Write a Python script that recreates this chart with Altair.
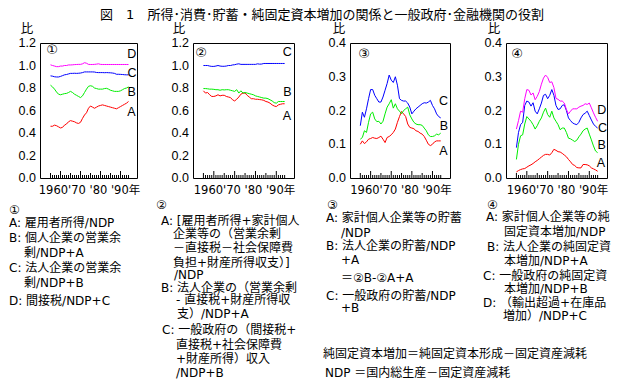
import altair as alt
import pandas as pd

years = list(range(1955, 1995))

# Panel 1
p1_A = [0.46,0.46,0.47,0.465,0.455,0.445,0.45,0.47,0.48,0.50,
        0.51,0.505,0.50,0.49,0.485,0.495,0.53,0.56,0.58,0.62,
        0.64,0.63,0.62,0.63,0.64,0.645,0.65,0.645,0.64,0.635,
        0.63,0.625,0.62,0.615,0.625,0.635,0.645,0.655,0.665,0.68]
p1_B = [0.825,0.81,0.79,0.765,0.745,0.74,0.745,0.75,0.752,0.76,
        0.77,0.76,0.745,0.735,0.725,0.715,0.73,0.76,0.79,0.815,
        0.82,0.815,0.80,0.795,0.79,0.79,0.79,0.795,0.797,0.79,
        0.78,0.775,0.77,0.77,0.77,0.775,0.785,0.795,0.80,0.81]
p1_C = [0.908,0.905,0.900,0.898,0.898,0.903,0.910,0.917,0.920,0.925,
        0.930,0.930,0.931,0.930,0.931,0.933,0.937,0.943,0.943,0.943,
        0.943,0.943,0.942,0.938,0.937,0.937,0.937,0.936,0.937,0.936,
        0.935,0.933,0.930,0.922,0.922,0.921,0.920,0.918,0.917,0.917]
p1_D = [1.006,1.0,0.995,0.99,0.99,0.995,0.995,1.0,1.0,1.005,
        1.005,1.006,1.008,1.009,1.01,1.01,1.015,1.025,1.02,1.01,
        1.009,1.009,1.01,1.012,1.015,1.01,1.009,1.009,1.009,1.009,
        1.009,1.009,1.009,1.009,1.009,1.009,1.009,1.009,1.009,1.009]

# Panel 2
p2_A = [0.775,0.755,0.76,0.74,0.725,0.725,0.73,0.74,0.73,0.735,
        0.735,0.725,0.72,0.715,0.695,0.685,0.70,0.72,0.745,0.755,
        0.755,0.735,0.72,0.705,0.705,0.70,0.70,0.697,0.695,0.69,
        0.68,0.675,0.665,0.65,0.64,0.635,0.65,0.655,0.66,0.66]
p2_B = [0.795,0.795,0.793,0.79,0.79,0.788,0.785,0.785,0.78,0.785,
        0.783,0.785,0.785,0.78,0.775,0.77,0.785,0.755,0.775,0.755,
        0.76,0.755,0.75,0.745,0.74,0.73,0.725,0.72,0.715,0.71,
        0.71,0.705,0.695,0.685,0.67,0.665,0.68,0.68,0.68,0.68]
p2_C = [1.0,1.0,1.0,0.995,0.992,0.992,0.995,1.0,0.995,0.993,
        0.993,0.995,1.0,1.0,1.005,1.007,1.012,1.015,1.01,1.01,
        1.01,1.01,1.01,1.01,1.01,1.01,1.015,1.012,1.013,1.018,
        1.018,1.018,1.018,1.018,1.018,1.018,1.018,1.018,1.018,1.018]

# Panel 3
p3_A = [0.10,0.11,0.102,0.107,0.115,0.117,0.12,0.118,0.117,0.12,
        0.124,0.115,0.105,0.12,0.123,0.128,0.135,0.145,0.165,0.182,
        0.197,0.19,0.182,0.16,0.15,0.148,0.146,0.14,0.138,0.133,
        0.13,0.123,0.112,0.10,0.096,0.10,0.107,0.11,0.11,0.11]
p3_B = [0.115,0.12,0.14,0.135,0.165,0.19,0.195,0.175,0.167,0.168,
        0.16,0.168,0.19,0.21,0.22,0.232,0.207,0.22,0.205,0.198,
        0.19,0.2,0.205,0.21,0.187,0.175,0.165,0.16,0.158,0.158,
        0.156,0.148,0.14,0.128,0.123,0.123,0.125,0.13,0.128,0.133]
p3_C = [0.155,0.195,0.18,0.205,0.235,0.262,0.262,0.245,0.235,0.225,
        0.225,0.24,0.26,0.28,0.305,0.29,0.283,0.30,0.275,0.235,
        0.23,0.228,0.228,0.222,0.21,0.19,0.198,0.205,0.21,0.215,
        0.22,0.223,0.222,0.225,0.23,0.215,0.205,0.19,0.182,0.178]

# Panel 4
p4_A = [0.018,0.022,0.025,0.027,0.028,0.032,0.036,0.039,0.043,0.048,
        0.052,0.057,0.062,0.067,0.07,0.07,0.068,0.075,0.085,0.082,
        0.078,0.077,0.073,0.068,0.063,0.055,0.048,0.04,0.037,0.031,
        0.03,0.03,0.04,0.04,0.039,0.036,0.03,0.027,0.024,0.02]
p4_B = [0.055,0.10,0.125,0.128,0.16,0.182,0.175,0.168,0.158,0.145,
        0.155,0.168,0.178,0.195,0.207,0.188,0.18,0.198,0.178,0.168,
        0.158,0.143,0.148,0.148,0.135,0.118,0.116,0.112,0.108,0.112,
        0.122,0.13,0.14,0.145,0.148,0.13,0.113,0.095,0.08,0.075]
p4_C = [0.09,0.135,0.158,0.165,0.215,0.228,0.225,0.213,0.223,0.198,
        0.19,0.205,0.222,0.245,0.248,0.235,0.245,0.262,0.245,0.215,
        0.203,0.205,0.215,0.217,0.2,0.178,0.17,0.163,0.16,0.158,
        0.165,0.178,0.188,0.192,0.198,0.185,0.172,0.16,0.153,0.148]
p4_D = [0.145,0.17,0.198,0.195,0.235,0.262,0.26,0.246,0.252,0.232,
        0.242,0.256,0.278,0.296,0.305,0.298,0.283,0.285,0.268,0.236,
        0.233,0.228,0.228,0.222,0.203,0.19,0.198,0.205,0.205,0.205,
        0.21,0.213,0.215,0.22,0.218,0.222,0.208,0.193,0.18,0.168]

# series end labels (name, year, value)
lab1 = (["A", "B", "C", "D"], [1995.5, 1995.6, 1995.8, 1995.6], [0.589, 0.767, 0.93, 1.10])
lab2 = (["A", "B", "C"], [1995.1, 1995.3, 1995.3], [0.551, 0.767, 1.12])
lab3 = (["A", "B", "C"], [1995.3, 1995.6, 1995.4], [0.08, 0.154, 0.228])
lab4 = (["A", "B", "C", "D"], [1995.6, 1996.0, 1996.3, 1996.0], [0.045, 0.098, 0.149, 0.2006])

yticks_big = [0.0, 0.2, 0.4, 0.6, 0.8, 1.0, 1.2]
yticks_small = [0.0, 0.1, 0.2, 0.3, 0.4]
x_caption = "1960'70 '80 '90年"
y_caption = "比"
circled = ["①", "②", "③", "④"]
title_text = "図　1　所得･消費･貯蓄・純固定資本増加の関係と一般政府･金融機関の役割"

notes1 = ["①", "A: 雇用者所得/NDP", "B: 個人企業の営業余", "剰/NDP+A",
          "C: 法人企業の営業余", "剰/NDP+B", "D: 間接税/NDP+C"]
notes2 = ["②", "A: [雇用者所得+家計個人", "企業等の（営業余剰", "－直接税－社会保障費",
          "負担+財産所得収支）]", "/NDP", "B: 法人企業の（営業余剰", "- 直接税+財産所得収",
          "支）/NDP+A", "C: 一般政府の（間接税+", "直接税+社会保障費", "+財産所得）収入", "/NDP+B"]
notes3 = ["③", "A: 家計個人企業等の貯蓄", "/NDP", "B: 法人企業の貯蓄/NDP", "+A",
          "＝②B-②A+A", "C: 一般政府の貯蓄/NDP", "+B",
          "純固定資本増加＝純固定資本形成－固定資産減耗", "NDP ＝国内総生産－固定資産減耗"]
notes4 = ["④", "A: 家計個人企業等の純", "固定資本増加/NDP", "B: 法人企業の純固定資",
          "本増加/NDP+A", "C: 一般政府の純固定資", "本増加/NDP+B", "D: （輸出超過+在庫品", "増加）/NDP+C"]

# layout (page pixel positions of text lines)
pos1 = [(8, 209), (8, 222), (8, 237), (23, 252), (8, 267), (23, 282), (8, 300)]
pos2 = [(155, 204), (160, 220), (172, 233), (172, 247), (172, 262), (173, 274), (160, 287),
        (175, 299), (176, 313), (161, 329), (175, 344), (175, 358), (175, 372)]
pos3 = [(326, 204), (325, 217), (340, 232), (325, 245), (340, 259), (340, 277), (325, 295),
        (340, 307), (322, 353), (324, 372)]
pos4 = [(486, 204), (485, 216), (503, 231), (486, 246), (503, 260), (482, 275), (503, 288),
        (482, 302), (502, 315)]
circ_pos = [(51, 49), (200, 52), (363, 53), (516, 53)]
hi_pos = [(26, 28), (178, 28), (338, 28), (493, 28)]
title_pos = (321, 14)

JP = "DejaVu Sans, Noto Sans CJK JP"
NUM = "Liberation Sans"
COLOR_DOMAIN = ["A", "B", "C", "D"]
COLOR_RANGE = ["#ff0000", "#00ee00", "#0000ff", "#ff00ff"]

H = 135
XDOMS = [[1949.75, 1998.25], [1950, 1998.5], [1950, 1998.5], [1950, 1998.5]]
SPACING = 56
WIDTHS = [97, 101, 100, 101]
LEFTS = [39, 192, 349, 505]
TOP = 42


def txt(s, gx, gy, left, font=JP, size=12.5, align="left"):
    return alt.Chart(pd.DataFrame({"t": [s]})).mark_text(
        align=align, baseline="middle", font=font, fontSize=size, color="black"
    ).encode(x=alt.value(gx - left), y=alt.value(gy - TOP), text="t:N")


def make_panel(i, series, ymax, yticks, labs, notes, pos):
    left = LEFTS[i]
    w = WIDTHS[i]
    rows = []
    for name, vals in series.items():
        for yr, v in zip(years, vals):
            rows.append({"year": yr, "value": v, "series": name})
    df = pd.DataFrame(rows)
    xs = alt.Scale(domain=XDOMS[i], nice=False, zero=False)
    ys = alt.Scale(domain=[0, ymax], nice=False, zero=False)
    bx = alt.X("year:Q", scale=xs, axis=None)
    by = alt.Y("value:Q", scale=ys, axis=None)
    lines = alt.Chart(df).mark_line(strokeWidth=1).encode(
        x=bx, y=by,
        color=alt.Color("series:N", scale=alt.Scale(domain=COLOR_DOMAIN, range=COLOR_RANGE),
                        legend=None),
    )
    layers = [lines]
    # y tick labels, placed through the y scale
    ydf = pd.DataFrame({"value": yticks, "lab": [f"{v:.1f}" for v in yticks]})
    layers.append(alt.Chart(ydf).mark_text(
        align="right", baseline="middle", font=NUM, fontSize=12.5, color="black", dx=-4
    ).encode(x=alt.value(0), y=by, text="lab:N"))
    # inner year ticks on the bottom edge
    tdf = pd.DataFrame({"year": years})
    for cond, ln in [(lambda y: y % 5 != 0, 3), (lambda y: y % 5 == 0 and y % 10 != 0, 5),
                     (lambda y: y % 10 == 0, 7)]:
        sub = tdf[[cond(y) for y in years]]
        layers.append(alt.Chart(sub).mark_rule(color="black", strokeWidth=1).encode(
            x=bx, y=alt.value(H), y2=alt.value(H - ln)))
    ldf = pd.DataFrame({"name": labs[0], "year": labs[1], "value": labs[2]})
    layers.append(alt.Chart(ldf).mark_text(font=NUM, fontSize=12.5, color="black").encode(
        x=bx, y=by, text="name:N"))
    # captions
    layers.append(alt.Chart(pd.DataFrame({"t": [x_caption]})).mark_text(
        align="center", baseline="middle", font=JP, fontSize=11.5, color="black"
    ).encode(x=alt.value(w / 2 + 1), y=alt.value(148), text="t:N"))
    layers.append(txt(y_caption, hi_pos[i][0], hi_pos[i][1], left, align="center"))
    layers.append(txt(circled[i], circ_pos[i][0], circ_pos[i][1], left, size=13, align="center"))
    for s, (gx, gy) in zip(notes, pos):
        layers.append(txt(s, gx, gy, left, size=12))
    if i == 0:
        layers.append(txt(title_text, title_pos[0], title_pos[1], left, size=13, align="center"))
    return alt.layer(*layers).properties(width=w, height=H)


panels = [
    make_panel(0, {"A": p1_A, "B": p1_B, "C": p1_C, "D": p1_D}, 1.2, yticks_big, lab1, notes1, pos1),
    make_panel(1, {"A": p2_A, "B": p2_B, "C": p2_C}, 1.2, yticks_big, lab2, notes2, pos2),
    make_panel(2, {"A": p3_A, "B": p3_B, "C": p3_C}, 0.4, yticks_small, lab3, notes3, pos3),
    make_panel(3, {"A": p4_A, "B": p4_B, "C": p4_C, "D": p4_D}, 0.4, yticks_small, lab4, notes4, pos4),
]

chart = alt.hconcat(*panels, spacing=SPACING, bounds="flush").properties(
    padding={"left": 0, "top": 0, "right": 2, "bottom": 0},
    background="white",
).configure_view(stroke="black", strokeWidth=1)

chart.save("out.html", embed_options={"renderer": "svg", "actions": False})
